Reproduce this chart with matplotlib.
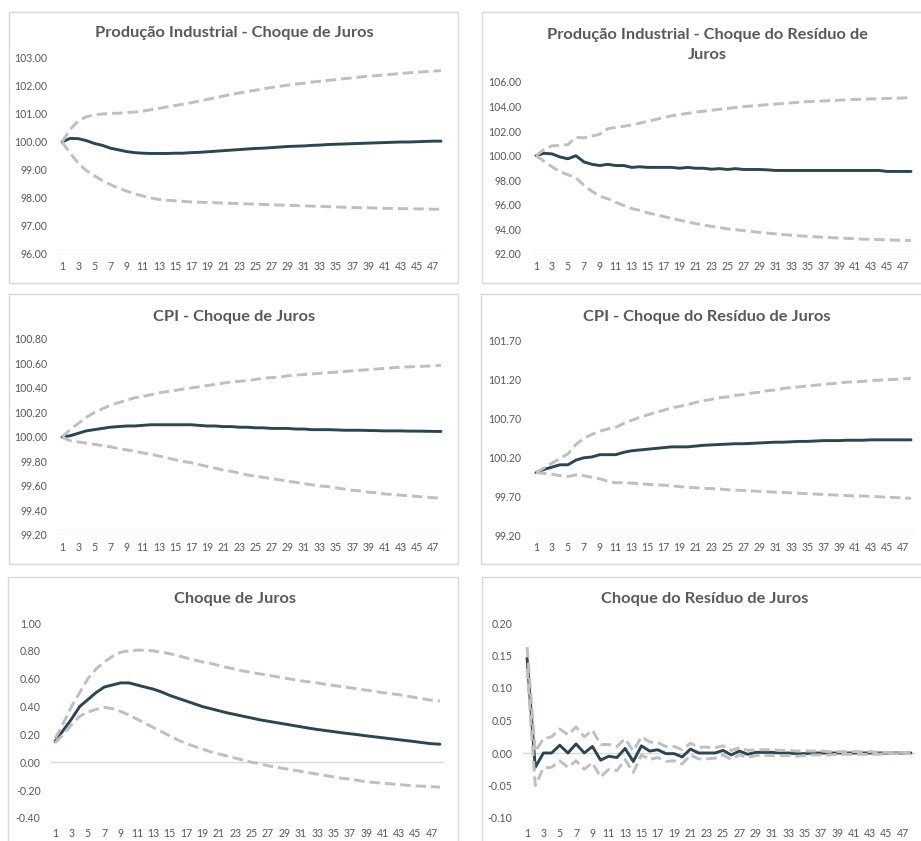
import numpy as np
import matplotlib
matplotlib.use("Agg")
import matplotlib.pyplot as plt
from matplotlib.patches import Rectangle

plt.rcParams['font.family'] = ['Lato', 'DejaVu Sans']

periods = np.arange(1, 49)
tick_periods = list(range(1, 48, 2))

# Produção Industrial - choque de juros
pi_juros_mid = [100.00, 100.13, 100.12, 100.05, 99.95, 99.88, 99.78, 99.72, 99.66, 99.62,
                99.60, 99.59, 99.59, 99.59, 99.60, 99.60, 99.62, 99.63, 99.65, 99.67,
                99.69, 99.71, 99.73, 99.75, 99.77, 99.78, 99.80, 99.82, 99.84, 99.85,
                99.86, 99.88, 99.89, 99.91, 99.92, 99.93, 99.94, 99.95, 99.96, 99.97,
                99.98, 99.99, 100.00, 100.00, 100.01, 100.02, 100.03, 100.03]
pi_juros_up = [100.00, 100.45, 100.75, 100.90, 100.97, 101.00, 101.02, 101.03, 101.05, 101.07,
               101.10, 101.15, 101.20, 101.25, 101.30, 101.35, 101.40, 101.46, 101.52, 101.58,
               101.64, 101.70, 101.75, 101.80, 101.85, 101.90, 101.95, 101.99, 102.03, 102.07,
               102.10, 102.14, 102.17, 102.20, 102.23, 102.26, 102.29, 102.32, 102.35, 102.37,
               102.40, 102.42, 102.45, 102.47, 102.49, 102.51, 102.53, 102.55]
pi_juros_lo = [100.00, 99.60, 99.25, 98.98, 98.80, 98.62, 98.48, 98.35, 98.25, 98.15,
               98.07, 98.00, 97.95, 97.92, 97.90, 97.88, 97.86, 97.85, 97.84, 97.83,
               97.82, 97.81, 97.80, 97.79, 97.78, 97.77, 97.76, 97.75, 97.74, 97.73,
               97.72, 97.71, 97.70, 97.69, 97.68, 97.67, 97.66, 97.65, 97.65, 97.64,
               97.63, 97.63, 97.62, 97.62, 97.61, 97.61, 97.60, 97.60]

# Produção Industrial - choque do resíduo de juros
pi_res_mid = [100.00, 100.20, 100.15, 99.90, 99.75, 100.00, 99.50, 99.30, 99.20, 99.30,
              99.20, 99.20, 99.05, 99.10, 99.05, 99.05, 99.05, 99.05, 98.98, 99.05,
              98.98, 98.98, 98.90, 98.95, 98.88, 98.95, 98.88, 98.88, 98.88, 98.85,
              98.80, 98.80, 98.80, 98.80, 98.80, 98.80, 98.80, 98.80, 98.80, 98.80,
              98.80, 98.80, 98.80, 98.80, 98.72, 98.72, 98.72, 98.72]
pi_res_up = [100.00, 100.50, 100.80, 100.85, 100.90, 101.50, 101.45, 101.60, 101.75, 102.20,
             102.30, 102.40, 102.50, 102.65, 102.80, 102.95, 103.10, 103.25, 103.35, 103.45,
             103.55, 103.62, 103.70, 103.78, 103.85, 103.92, 104.00, 104.05, 104.10, 104.15,
             104.20, 104.25, 104.30, 104.35, 104.40, 104.43, 104.46, 104.49, 104.52, 104.55,
             104.58, 104.60, 104.62, 104.64, 104.66, 104.68, 104.70, 104.72]
pi_res_lo = [100.00, 99.55, 99.10, 98.70, 98.45, 98.20, 97.60, 97.10, 96.70, 96.50,
             96.20, 95.95, 95.70, 95.55, 95.35, 95.20, 95.05, 94.90, 94.75, 94.60,
             94.48, 94.36, 94.25, 94.15, 94.05, 93.98, 93.90, 93.83, 93.76, 93.70,
             93.64, 93.58, 93.53, 93.48, 93.44, 93.40, 93.36, 93.33, 93.30, 93.27,
             93.24, 93.21, 93.19, 93.17, 93.15, 93.13, 93.11, 93.10]

# CPI - choque de juros
cpi_juros_mid = [100.000, 100.010, 100.030, 100.050, 100.060, 100.070, 100.080, 100.085, 100.090, 100.090,
                 100.095, 100.100, 100.100, 100.100, 100.100, 100.100, 100.100, 100.095, 100.090, 100.090,
                 100.085, 100.085, 100.080, 100.080, 100.075, 100.075, 100.070, 100.070, 100.070, 100.065,
                 100.065, 100.060, 100.060, 100.060, 100.058, 100.055, 100.055, 100.055, 100.053, 100.052,
                 100.050, 100.050, 100.050, 100.048, 100.048, 100.047, 100.046, 100.045]
cpi_juros_up = [100.000, 100.060, 100.110, 100.160, 100.200, 100.230, 100.260, 100.280, 100.300, 100.320,
                100.330, 100.345, 100.360, 100.370, 100.380, 100.390, 100.400, 100.410, 100.420, 100.430,
                100.440, 100.450, 100.455, 100.460, 100.470, 100.480, 100.485, 100.490, 100.500, 100.505,
                100.510, 100.515, 100.520, 100.525, 100.530, 100.535, 100.540, 100.545, 100.550, 100.555,
                100.560, 100.565, 100.570, 100.572, 100.575, 100.578, 100.580, 100.585]
cpi_juros_lo = [100.000, 99.970, 99.960, 99.950, 99.940, 99.930, 99.920, 99.905, 99.895, 99.885,
                99.870, 99.860, 99.845, 99.830, 99.815, 99.800, 99.790, 99.775, 99.760, 99.745,
                99.730, 99.720, 99.705, 99.690, 99.680, 99.670, 99.660, 99.650, 99.640, 99.630,
                99.620, 99.610, 99.600, 99.595, 99.585, 99.575, 99.565, 99.560, 99.550, 99.545,
                99.535, 99.530, 99.525, 99.520, 99.515, 99.510, 99.505, 99.500]

# CPI - choque do resíduo de juros
cpi_res_mid = [100.000, 100.040, 100.070, 100.100, 100.100, 100.160, 100.190, 100.200, 100.230, 100.230,
               100.230, 100.260, 100.280, 100.290, 100.300, 100.310, 100.320, 100.330, 100.330, 100.330,
               100.340, 100.350, 100.355, 100.360, 100.365, 100.370, 100.370, 100.375, 100.380, 100.385,
               100.390, 100.390, 100.395, 100.400, 100.400, 100.405, 100.410, 100.410, 100.410, 100.415,
               100.415, 100.415, 100.420, 100.420, 100.420, 100.420, 100.420, 100.420]
cpi_res_up = [100.000, 100.060, 100.120, 100.180, 100.240, 100.360, 100.440, 100.490, 100.530, 100.560,
              100.580, 100.630, 100.670, 100.710, 100.740, 100.770, 100.800, 100.830, 100.850, 100.870,
              100.900, 100.920, 100.940, 100.960, 100.970, 100.990, 101.000, 101.020, 101.030, 101.050,
              101.060, 101.080, 101.090, 101.100, 101.110, 101.120, 101.130, 101.140, 101.150, 101.160,
              101.165, 101.170, 101.180, 101.185, 101.190, 101.195, 101.200, 101.210]
cpi_res_lo = [100.000, 99.990, 99.980, 99.960, 99.950, 99.970, 99.960, 99.940, 99.920, 99.890,
              99.870, 99.870, 99.865, 99.860, 99.850, 99.840, 99.840, 99.830, 99.820, 99.810,
              99.805, 99.800, 99.795, 99.790, 99.780, 99.775, 99.770, 99.765, 99.760, 99.755,
              99.750, 99.745, 99.740, 99.735, 99.730, 99.725, 99.720, 99.715, 99.710, 99.705,
              99.700, 99.700, 99.695, 99.690, 99.685, 99.680, 99.675, 99.670]

# Juros - choque de juros
jur_mid = [0.150, 0.230, 0.310, 0.400, 0.450, 0.500, 0.540, 0.555, 0.570, 0.570,
           0.555, 0.540, 0.525, 0.505, 0.480, 0.460, 0.440, 0.420, 0.400, 0.385,
           0.370, 0.355, 0.343, 0.330, 0.318, 0.305, 0.295, 0.285, 0.275, 0.265,
           0.255, 0.245, 0.236, 0.228, 0.220, 0.212, 0.205, 0.198, 0.190, 0.183,
           0.176, 0.169, 0.162, 0.155, 0.148, 0.140, 0.133, 0.130]
jur_up = [0.170, 0.280, 0.400, 0.500, 0.600, 0.670, 0.720, 0.760, 0.790, 0.800,
          0.805, 0.805, 0.800, 0.790, 0.780, 0.765, 0.750, 0.735, 0.720, 0.710,
          0.695, 0.680, 0.670, 0.655, 0.645, 0.635, 0.625, 0.615, 0.605, 0.595,
          0.585, 0.578, 0.570, 0.560, 0.552, 0.543, 0.535, 0.527, 0.518, 0.510,
          0.500, 0.493, 0.485, 0.475, 0.465, 0.455, 0.445, 0.440]
jur_lo = [0.140, 0.200, 0.270, 0.330, 0.360, 0.380, 0.395, 0.385, 0.365, 0.340,
          0.310, 0.280, 0.250, 0.220, 0.190, 0.160, 0.135, 0.115, 0.095, 0.075,
          0.060, 0.045, 0.030, 0.015, 0.000, -0.010, -0.025, -0.035, -0.045, -0.055,
          -0.065, -0.075, -0.085, -0.095, -0.105, -0.115, -0.120, -0.130, -0.140, -0.145,
          -0.150, -0.155, -0.160, -0.165, -0.170, -0.172, -0.175, -0.178]

# Juros - choque do resíduo de juros
res_mid = [0.146, -0.022, 0.000, 0.000, 0.012, 0.000, 0.014, 0.000, 0.010, -0.011,
           -0.005, -0.007, 0.007, -0.013, 0.011, 0.003, 0.005, -0.001, -0.001, -0.006,
           0.006, 0.000, 0.000, 0.000, 0.004, -0.003, 0.003, -0.002, 0.001, 0.001,
           0.001, 0.000, 0.000, -0.001, -0.001, 0.000, 0.000, 0.000, 0.000, 0.000,
           0.000, 0.000, 0.000, 0.000, 0.000, 0.000, 0.000, 0.000]
res_up = [0.163, 0.002, 0.022, 0.025, 0.037, 0.028, 0.040, 0.025, 0.035, 0.013,
          0.013, 0.010, 0.022, 0.003, 0.025, 0.017, 0.016, 0.010, 0.010, 0.005,
          0.015, 0.009, 0.009, 0.008, 0.011, 0.004, 0.008, 0.004, 0.005, 0.005,
          0.005, 0.004, 0.004, 0.003, 0.003, 0.003, 0.003, 0.002, 0.002, 0.002,
          0.002, 0.002, 0.002, 0.001, 0.001, 0.001, 0.001, 0.001]
res_lo = [0.130, -0.050, -0.023, -0.022, -0.012, -0.022, -0.012, -0.025, -0.015, -0.037,
          -0.025, -0.027, -0.010, -0.030, -0.003, -0.010, -0.007, -0.013, -0.012, -0.017,
          -0.003, -0.009, -0.009, -0.008, -0.003, -0.010, -0.003, -0.007, -0.004, -0.004,
          -0.004, -0.004, -0.004, -0.005, -0.004, -0.003, -0.003, -0.003, -0.002, -0.002,
          -0.002, -0.002, -0.002, -0.002, -0.001, -0.001, -0.001, -0.001]

W, H = 921, 841
DARK = '#2b4653'
BAND = '#bfbfbf'
TXT = '#595959'
AXLINE = '#d9d9d9'

fig = plt.figure(figsize=(W / 100, H / 100), dpi=100)


def fig_rect(x0, y0, x1, y1):
    # pixel box (top-left origin) -> figure fraction
    return [x0 / W, 1 - y1 / H, (x1 - x0) / W, (y1 - y0) / H]


def panel(frame, box, title, title_xy, mid, up, lo, ylim, ystep, base, pad_x):
    fig.patches.append(Rectangle((frame[0] / W, 1 - frame[3] / H),
                                 (frame[2] - frame[0]) / W, (frame[3] - frame[1]) / H,
                                 transform=fig.transFigure, fill=False,
                                 edgecolor=AXLINE, lw=1.0))
    ax = fig.add_axes(fig_rect(*box))
    ax.axhline(base, color=AXLINE, lw=1.0, zorder=1)
    ax.plot(periods, mid, color=DARK, lw=2.1, zorder=2, solid_capstyle='round')
    for band in (up, lo):
        ax.plot(periods, band, color=BAND, lw=2.1, dashes=(3.6, 1.7), zorder=3)
    ax.set_xlim(0.5, 48.5)
    ax.set_ylim(*ylim)
    ax.set_yticks(np.arange(ylim[0], ylim[1] + ystep / 2, ystep))
    ax.yaxis.set_major_formatter(matplotlib.ticker.FormatStrFormatter('%.2f'))
    ax.set_xticks(tick_periods)
    ax.tick_params(length=0, labelsize=7.6, labelcolor=TXT)
    ax.tick_params(axis='y', pad=7.5)
    ax.tick_params(axis='x', pad=pad_x)
    for s in ax.spines.values():
        s.set_visible(False)
    ax.patch.set_alpha(0)
    fig.text(title_xy[0] / W, 1 - title_xy[1] / H, title, ha='center', va='center',
             fontsize=11.8, fontweight='bold', color=TXT, linespacing=1.55)
    return ax


panel((9, 12, 458, 283), (58, 58, 445, 254), 'Produção Industrial - Choque de Juros',
      (234, 33), pi_juros_mid, pi_juros_up, pi_juros_lo, (96, 103), 1, 96, 5)
panel((482, 12, 935, 283), (532, 82, 915, 254),
      'Produção Industrial - Choque do Resíduo de\nJuros',
      (707, 45), pi_res_mid, pi_res_up, pi_res_lo, (92, 106), 2, 92, 5)
panel((9, 294, 458, 564), (58, 339, 445, 535), 'CPI - Choque de Juros',
      (234, 317), cpi_juros_mid, cpi_juros_up, cpi_juros_lo, (99.2, 100.8), 0.2, 99.2, 5)
panel((481, 294, 935, 564), (532, 340, 915, 535), 'CPI - Choque do Resíduo de Juros',
      (707, 317), cpi_res_mid, cpi_res_up, cpi_res_lo, (99.2, 101.7), 0.5, 99.2, 5)
panel((8, 577, 458, 860), (51, 623, 444, 818), 'Choque de Juros',
      (235, 599), jur_mid, jur_up, jur_lo, (-0.4, 1.0), 0.2, 0.0, 7)
panel((482, 577, 935, 860), (523, 623, 915, 818), 'Choque do Resíduo de Juros',
      (705, 599), res_mid, res_up, res_lo, (-0.1, 0.2), 0.05, 0.0, 7)

fig.savefig('out.png', dpi=100)
